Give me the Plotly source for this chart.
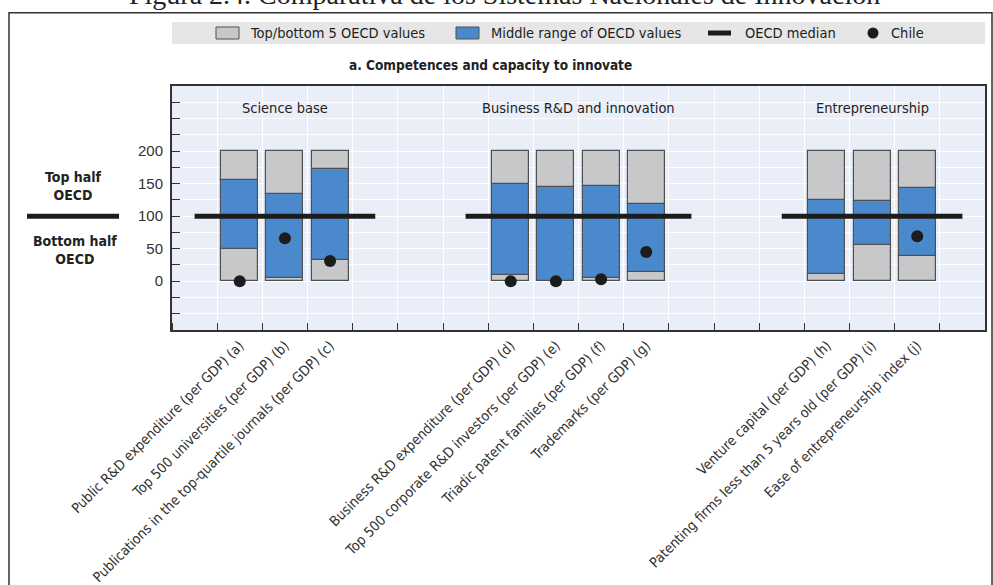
import plotly.graph_objects as go

# ---------------- data ----------------
labels = [
    "Public R&D expenditure (per GDP) (a)",
    "Top 500 universities (per GDP) (b)",
    "Publications in the top-quartile journals (per GDP) (c)",
    "Business R&D expenditure (per GDP) (d)",
    "Top 500 corporate R&D investors (per GDP) (e)",
    "Triadic patent families (per GDP) (f)",
    "Trademarks (per GDP) (g)",
    "Venture capital (per GDP) (h)",
    "Patenting firms less than 5 years old (per GDP) (i)",
    "Ease of entrepreneurship index (j)",
]
positions = [1, 2, 3, 7, 8, 9, 10, 14, 15, 16]
oecd_min = [0, 0, 0, 0, 0, 0, 0, 0, 0, 0]
oecd_max = [200, 200, 200, 200, 200, 200, 200, 200, 200, 200]
middle_low = [50, 5, 32, 10, 0, 5, 14, 11, 56, 39]
middle_high = [155, 134, 173, 150, 145, 147, 119, 125, 123, 143]
chile = [0, 66, 31, 0, 0, 3, 45, None, None, 69]

group_names = ["Science base", "Business R&D and innovation", "Entrepreneurship"]
group_members = [[1, 2, 3], [7, 8, 9, 10], [14, 15, 16]]
oecd_median = [100, 100, 100]

y_ticks = [0, 50, 100, 150, 200]

# ---------------- style ----------------
FONT = "Liberation Sans Narrow, Arial Narrow, DejaVu Sans Condensed, sans-serif"
GRAY = "#c8c8ca"
BLUE = "#4a89cb"
OUTLINE = "#505050"
DARK = "#1c1c1c"
BG = "#e9eef8"
TXT = "#222222"
BAR_W = 0.82

fig = go.Figure()

low_gray = [l - m for l, m in zip(middle_low, oecd_min)]
mid_blue = [h - l for h, l in zip(middle_high, middle_low)]
top_gray = [M - h for M, h in zip(oecd_max, middle_high)]

fig.add_trace(go.Bar(x=positions, y=low_gray, base=oecd_min, width=BAR_W,
                     marker=dict(color=GRAY, line=dict(color=OUTLINE, width=1.2)),
                     name="Top/bottom 5 OECD values", showlegend=False, hoverinfo="skip"))
fig.add_trace(go.Bar(x=positions, y=mid_blue, base=middle_low, width=BAR_W,
                     marker=dict(color=BLUE, line=dict(color=OUTLINE, width=1.2)),
                     name="Middle range of OECD values", showlegend=False))
fig.add_trace(go.Bar(x=positions, y=top_gray, base=middle_high, width=BAR_W,
                     marker=dict(color=GRAY, line=dict(color=OUTLINE, width=1.2)),
                     name="Top/bottom 5 OECD values", showlegend=False, hoverinfo="skip"))

# median lines
mx, my = [], []
for mem, med in zip(group_members, oecd_median):
    mx += [min(mem) - 1, max(mem) + 1, None]
    my += [med, med, None]
fig.add_trace(go.Scatter(x=mx, y=my, mode="lines", line=dict(color=DARK, width=5),
                         name="OECD median", showlegend=False))

# Chile
cx = [p for p, c in zip(positions, chile) if c is not None]
cy = [c for c in chile if c is not None]
fig.add_trace(go.Scatter(x=cx, y=cy, mode="markers",
                         marker=dict(color=DARK, size=12), name="Chile", showlegend=False))

# ---------------- layout ----------------
L, R, T, B = 172, 8, 86, 255
W, H = 993, 585
PW = W - L - R
PH = H - T - B


def px_x(px):
    return (px - L) / PW


def px_y(py):
    return (H - B - py) / PH


annotations = []
shapes = []

# outer frame
shapes.append(dict(type="rect", xref="paper", yref="paper",
                   x0=px_x(9), x1=px_x(992), y0=px_y(600), y1=px_y(12.7),
                   line=dict(color="#333333", width=1.5), fillcolor="rgba(0,0,0,0)", layer="below"))

# legend band
shapes.append(dict(type="rect", xref="paper", yref="paper",
                   x0=0, x1=1, y0=px_y(44), y1=px_y(22),
                   line=dict(width=0), fillcolor="#e6e6e6", layer="below"))
ly = px_y(33)
hh = 6 / PH
LEG = dict(size=14.5, color=TXT, family=FONT)
shapes.append(dict(type="rect", xref="paper", yref="paper",
                   x0=px_x(216), x1=px_x(239), y0=ly - hh, y1=ly + hh,
                   line=dict(color=OUTLINE, width=1), fillcolor=GRAY))
annotations.append(dict(text="Top/bottom 5 OECD values", xref="paper", yref="paper",
                        x=px_x(248), y=ly, xanchor="left", yanchor="middle", showarrow=False, font=LEG))
shapes.append(dict(type="rect", xref="paper", yref="paper",
                   x0=px_x(456), x1=px_x(479), y0=ly - hh, y1=ly + hh,
                   line=dict(color=OUTLINE, width=1), fillcolor=BLUE))
annotations.append(dict(text="Middle range of OECD values", xref="paper", yref="paper",
                        x=px_x(489), y=ly, xanchor="left", yanchor="middle", showarrow=False, font=LEG))
shapes.append(dict(type="line", xref="paper", yref="paper",
                   x0=px_x(708), x1=px_x(731), y0=ly, y1=ly,
                   line=dict(color=DARK, width=5)))
annotations.append(dict(text="OECD median", xref="paper", yref="paper",
                        x=px_x(743), y=ly, xanchor="left", yanchor="middle", showarrow=False, font=LEG))
r = 5.5
shapes.append(dict(type="circle", xref="paper", yref="paper",
                   x0=px_x(873 - r), x1=px_x(873 + r), y0=px_y(33 + r), y1=px_y(33 - r),
                   line=dict(color=DARK, width=0), fillcolor=DARK))
annotations.append(dict(text="Chile", xref="paper", yref="paper",
                        x=px_x(889), y=ly, xanchor="left", yanchor="middle", showarrow=False, font=LEG))

# panel title
annotations.append(dict(text="<b>a. Competences and capacity to innovate</b>", xref="paper", yref="paper",
                        x=px_x(490), y=px_y(65), xanchor="center", yanchor="middle", showarrow=False,
                        font=dict(size=13.5, color=TXT, family=FONT)))

# clipped figure title at very top
annotations.append(dict(text="Figura 2.4. Comparativa de los Sistemas Nacionales de Innovación",
                        xref="paper", yref="paper", x=px_x(504), y=px_y(12), xanchor="center",
                        yanchor="bottom", showarrow=False,
                        font=dict(size=28, color=TXT, family="Liberation Serif, DejaVu Serif, serif")))

# group names
for name, mem in zip(group_names, group_members):
    annotations.append(dict(text=name, xref="x", yref="y", x=(min(mem) + max(mem)) / 2, y=266,
                            xanchor="center", yanchor="middle", showarrow=False,
                            font=dict(size=14.5, color=TXT, family=FONT)))

# left side labels
annotations.append(dict(text="<b>Top half<br>OECD</b>", xref="paper", yref="paper",
                        x=px_x(73), y=px_y(186), xanchor="center", yanchor="middle", showarrow=False,
                        font=dict(size=14, color=TXT, family=FONT)))
annotations.append(dict(text="<b>Bottom half<br>OECD</b>", xref="paper", yref="paper",
                        x=px_x(75), y=px_y(250), xanchor="center", yanchor="middle", showarrow=False,
                        font=dict(size=14, color=TXT, family=FONT)))
shapes.append(dict(type="line", xref="paper", yref="y", x0=px_x(27), x1=px_x(119),
                   y0=100, y1=100, line=dict(color=DARK, width=5)))

fig.update_layout(
    width=W, height=H,
    margin=dict(l=L, r=R, t=T, b=B, autoexpand=False),
    paper_bgcolor="white", plot_bgcolor=BG,
    barmode="overlay", bargap=0,
    showlegend=False,
    font=dict(family=FONT, size=15, color=TXT),
    annotations=annotations, shapes=shapes,
    xaxis=dict(range=[-0.5, 17.5], tickmode="array", tickvals=positions, ticktext=labels,
               tickangle=-45, ticks="", showgrid=False, zeroline=False, automargin=False,
               showline=True, linecolor="#333333", linewidth=2, mirror=True,
               tickfont=dict(size=14, color="#333333", family=FONT),
               minor=dict(tick0=0.5, dtick=1, ticks="inside", ticklen=7, tickcolor="#333333",
                          showgrid=True, gridcolor="white", gridwidth=1.2)),
    yaxis=dict(range=[-75, 300], tickmode="array", tickvals=y_ticks, automargin=False,
               ticks="inside", ticklen=8, tickcolor="#333333", showgrid=True,
               gridcolor="white", gridwidth=1.2, zeroline=False,
               showline=True, linecolor="#333333", linewidth=2, mirror=True,
               tickfont=dict(size=15, color="#333333", family="Liberation Sans, Arial, sans-serif"),
               ticklabelstandoff=4,
               minor=dict(tick0=0, dtick=25, ticks="inside", ticklen=8, tickcolor="#333333",
                          showgrid=True, gridcolor="white", gridwidth=1.2)),
)

fig.write_html("out.html")
